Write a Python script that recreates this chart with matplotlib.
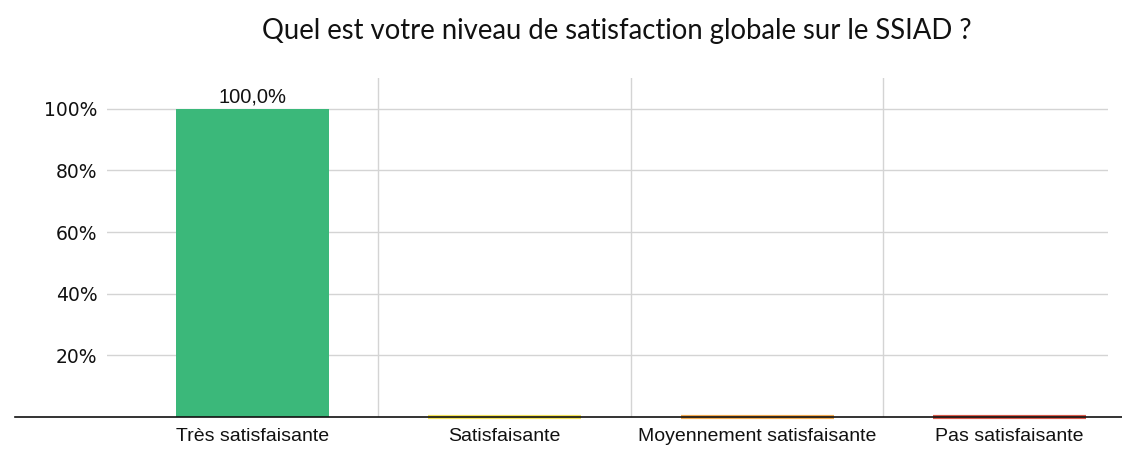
import matplotlib.pyplot as plt
import numpy as np

title = "Quel est votre niveau de satisfaction globale sur le SSIAD ?"
categories = ["Très satisfaisante", "Satisfaisante", "Moyennement satisfaisante", "Pas satisfaisante"]
values = [100.0, 0.0, 0.0, 0.0]
colors = ["#3bb87a", "#f3e35c", "#f2aa52", "#d85a4c"]
yticks = [20, 40, 60, 80, 100]


def main() -> None:
    fig = plt.figure(figsize=(11.22, 4.49), dpi=100)
    ax = fig.add_axes([107 / 1122, 1 - 417 / 449, 1001 / 1122, 339 / 449])

    x = np.arange(len(categories))
    # empty categories still show as a thin coloured stroke on the baseline
    widths = [0 if v > 0 else 3 for v in values]
    bars = ax.bar(x, values, width=0.606, color=colors, edgecolor=colors,
                  linewidth=widths, zorder=3, clip_on=False)
    for bar, v in zip(bars, values):
        if v > 0:
            ax.text(bar.get_x() + bar.get_width() / 2, v + 0.6,
                    f"{v:.1f}%".replace(".", ","), ha="center", va="bottom",
                    fontsize=14.5, family=["Liberation Sans", "DejaVu Sans"], color="#111111")

    ax.set_xlim(-0.575, 3.39)
    ax.set_ylim(0, 110)
    ax.set_yticks(yticks)
    ax.set_yticklabels([f"{t}%" for t in yticks], fontsize=13.5,
                       family=["DejaVu Sans"], color="#111111")
    ax.set_xticks(x)
    ax.set_xticklabels(categories, fontsize=14, family=["Liberation Sans"], color="#111111")
    ax.tick_params(length=0)
    ax.tick_params(axis="y", pad=7)
    ax.tick_params(axis="x", pad=8)

    for t in yticks:
        ax.axhline(t, color="#d4d4d4", linewidth=1, zorder=1)
    for b in x[:-1] + 0.5:
        ax.axvline(b, color="#d4d4d4", linewidth=1, zorder=1)

    for s in ax.spines.values():
        s.set_visible(False)
    ax.axhline(0, xmin=(15 - 107) / 1001, xmax=(1122 - 107) / 1001,
               color="#111111", linewidth=1.2, zorder=4, clip_on=False)

    fig.text(617 / 1122, 1 - 31 / 449, title, ha="center", va="center",
             fontsize=19.8, family=["Lato", "DejaVu Sans"], color="#111111")

    fig.savefig("out.png", dpi=100)
    plt.close(fig)


if __name__ == "__main__":
    main()
